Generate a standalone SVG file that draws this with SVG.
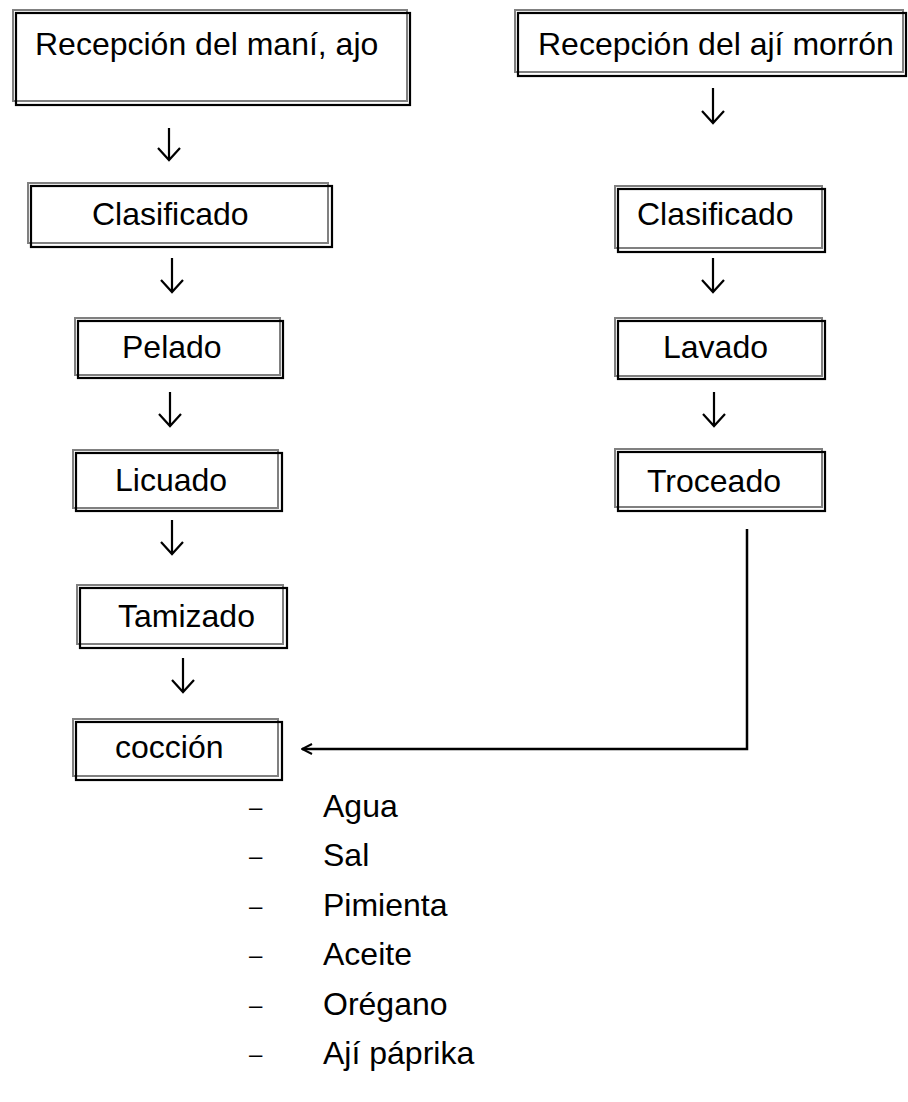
<svg xmlns="http://www.w3.org/2000/svg" width="908" height="1102" viewBox="0 0 908 1102">
  <defs>
    <marker id="ah" viewBox="0 0 12 12" refX="11" refY="6" markerWidth="12" markerHeight="12" markerUnits="userSpaceOnUse" orient="auto">
      <path d="M1,1 L11,6 L1,11" fill="none" stroke="#000" stroke-width="2"/>
    </marker>
  </defs>
  <style>
    .outer { fill: none; stroke: #808080; stroke-width: 2; }
    .inner { fill: none; stroke: #000; stroke-width: 2.2; }
    .lbl { font-family: "Liberation Sans", Arial, sans-serif; font-size: 32px; fill: #000; }
    .dash { font-family: "Liberation Sans", Arial, sans-serif; font-size: 24px; fill: #000; }
    .down { fill: none; stroke: #000; stroke-width: 2.2; }
    .flow { fill: none; stroke: #000; stroke-width: 2.5; }
  </style>

  <!-- left column -->
  <g id="recepcion-mani">
    <rect class="outer" x="13" y="10" width="394" height="91"/>
    <rect class="inner" x="16" y="13" width="394" height="92"/>
    <text class="lbl" x="35" y="55">Recepción del maní, ajo</text>
  </g>
  <g id="clasificado-1">
    <rect class="outer" x="28" y="183" width="300" height="60"/>
    <rect class="inner" x="31" y="186" width="301" height="61"/>
    <text class="lbl" x="92" y="225">Clasificado</text>
  </g>
  <g id="pelado">
    <rect class="outer" x="75" y="318" width="205" height="57"/>
    <rect class="inner" x="78" y="321" width="205" height="57"/>
    <text class="lbl" x="122" y="358">Pelado</text>
  </g>
  <g id="licuado">
    <rect class="outer" x="73" y="450" width="205" height="58"/>
    <rect class="inner" x="76" y="453" width="206" height="58"/>
    <text class="lbl" x="115" y="491">Licuado</text>
  </g>
  <g id="tamizado">
    <rect class="outer" x="77" y="585" width="206" height="59"/>
    <rect class="inner" x="80" y="588" width="207" height="60"/>
    <text class="lbl" x="118" y="627">Tamizado</text>
  </g>
  <g id="coccion">
    <rect class="outer" x="73" y="719" width="205" height="57"/>
    <rect class="inner" x="76" y="722" width="206" height="58"/>
    <text class="lbl" x="115" y="758">cocción</text>
  </g>

  <!-- right column -->
  <g id="recepcion-aji">
    <rect class="outer" x="515" y="10" width="388" height="62"/>
    <rect class="inner" x="518" y="13" width="388" height="63"/>
    <text class="lbl" x="538" y="55">Recepción del ají morrón</text>
  </g>
  <g id="clasificado-2">
    <rect class="outer" x="615" y="186" width="207" height="62"/>
    <rect class="inner" x="618" y="189" width="207" height="63"/>
    <text class="lbl" x="637" y="225">Clasificado</text>
  </g>
  <g id="lavado">
    <rect class="outer" x="615" y="318" width="207" height="58"/>
    <rect class="inner" x="618" y="321" width="207" height="58"/>
    <text class="lbl" x="663" y="358">Lavado</text>
  </g>
  <g id="troceado">
    <rect class="outer" x="615" y="449" width="207" height="58"/>
    <rect class="inner" x="618" y="452" width="207" height="59"/>
    <text class="lbl" x="647" y="492">Troceado</text>
  </g>

  <!-- ingredients added during cooking -->
  <g id="ingredientes">
    <text class="dash" x="249" y="815">–</text><text class="lbl" x="323" y="817">Agua</text>
    <text class="dash" x="249" y="864">–</text><text class="lbl" x="323" y="866">Sal</text>
    <text class="dash" x="249" y="914">–</text><text class="lbl" x="323" y="916">Pimienta</text>
    <text class="dash" x="249" y="963">–</text><text class="lbl" x="323" y="965">Aceite</text>
    <text class="dash" x="249" y="1013">–</text><text class="lbl" x="323" y="1015">Orégano</text>
    <text class="dash" x="249" y="1062">–</text><text class="lbl" x="323" y="1064">Ají páprika</text>
  </g>

  <!-- connectors -->
  <g id="connectors">
    <path class="down" d="M169,128 V160 M158,148 L169,160 L180,148"/>
    <path class="down" d="M172,258 V292 M161,280 L172,292 L183,280"/>
    <path class="down" d="M170,392 V426 M159,414 L170,426 L181,414"/>
    <path class="down" d="M172,520 V554 M161,542 L172,554 L183,542"/>
    <path class="down" d="M183,658 V692 M172,680 L183,692 L194,680"/>
    <path class="down" d="M713,88 V123 M702,111 L713,123 L724,111"/>
    <path class="down" d="M713,258 V292 M702,280 L713,292 L724,280"/>
    <path class="down" d="M714,392 V426 M703,414 L714,426 L725,414"/>
    <path class="flow" d="M747,529 V749 H302" marker-end="url(#ah)"/>
  </g>
</svg>
